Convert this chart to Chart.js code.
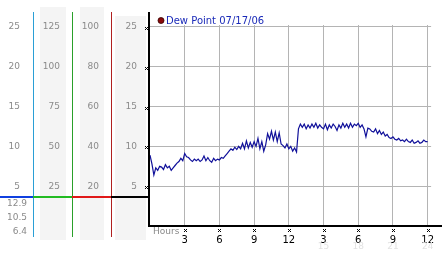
<!DOCTYPE html>
<html>
<head>
<meta charset="utf-8">
<script src="https://cdn.jsdelivr.net/npm/chart.js@4.4.1/dist/chart.umd.min.js"></script>
<style>
  html, body { margin: 0; padding: 0; background: #fff; }
  #wrap { width: 442px; height: 253px; }
</style>
</head>
<body>
<div id="wrap"><canvas id="dewChart" width="442" height="253"></canvas></div>
<script>
// --- data ---
const seriesLabel = 'Dew Point 07/17/06';
const stepHours = 1 / 6; // one reading every 10 minutes

// dew point readings, 6 per hour, hour 0 to 24
const dewPoint = [
  8.9, 7.8, 6.4, 7.3, 7.0, 7.5,
  7.4, 7.1, 7.7, 7.3, 7.5, 7.0,
  7.3, 7.6, 7.9, 8.1, 8.5, 8.2,
  9.1, 8.7, 8.6, 8.3, 8.1, 8.4,
  8.2, 8.4, 8.1, 8.3, 8.8, 8.2,
  8.6, 8.2, 8.0, 8.5, 8.2, 8.4,
  8.3, 8.6, 8.5, 8.8, 9.1, 9.4,
  9.7, 9.5, 9.9, 9.6, 10.0, 9.7,
  10.4, 9.7, 10.7, 9.8, 10.5, 9.9,
  10.6, 10.0, 11.0, 9.7, 10.6, 9.4,
  10.2, 11.6, 10.9, 11.9, 10.8, 11.8,
  10.6, 11.7, 10.3, 10.1, 9.8, 10.3,
  9.7, 10.0, 9.4, 9.8, 9.3, 12.2,
  12.8, 12.4, 12.8, 12.2, 12.7, 12.3,
  12.8, 12.4, 12.9, 12.3, 12.7, 12.4,
  12.2, 12.8, 12.1, 12.7, 12.3, 12.8,
  12.5, 12.0, 12.7, 12.3, 12.9, 12.4,
  12.8, 12.3, 12.9, 12.4, 12.8, 12.6,
  12.9, 12.4, 12.7, 12.2, 11.2, 12.3,
  12.2, 11.9, 11.8, 12.2, 11.6, 12.0,
  11.5, 11.8, 11.3, 11.5, 11.1, 11.0,
  11.2, 10.9, 10.8, 11.0, 10.7, 10.8,
  10.6, 10.9, 10.6, 10.5, 10.8, 10.4,
  10.5, 10.7, 10.4, 10.5, 10.8, 10.6,
  10.6
];

// left panel columns
const col1Ticks = [5, 10, 15, 20, 25];
const col2Ticks = [25, 50, 75, 100, 125];
const col3Ticks = [20, 40, 60, 80, 100];
const dewTicks = [5, 10, 15, 20, 25];

// hours axis
const hourTicks = [3, 6, 9, 12, 15, 18, 21, 24];
const hourLabels = ['3', '6', '9', '12', '3', '6', '9', '12'];
const faintHours = [15, 18, 21, 24];
const faintLabels = ['15', '18', '21', '24'];

// stats shown under the panel (max, avg, min)
const statValues = ['12.9', '10.5', '6.4'];

// --- helpers ---
const FONT = 'DejaVu Sans';
const GRID = '#b4b4b4';
const LABEL = '#8a8a8a';

function fixTicks(list) {
  return scale => { scale.ticks = list.map(v => ({ value: v })); };
}
function fixWidth(w) {
  return scale => { scale.width = w; };
}
function sideAxis(max, ticks, width, weight, pad) {
  return {
    type: 'linear', position: 'left', min: 0, max: max, weight: weight,
    afterBuildTicks: fixTicks(ticks),
    afterFit: fixWidth(width),
    grid: { display: false, drawTicks: false },
    border: { display: false },
    ticks: { color: LABEL, padding: pad, font: { family: FONT, size: 9 } }
  };
}

function dot(ctx, x, y) {
  // tiny checker mark used by the original at every tick
  ctx.fillStyle = '#000';
  ctx.fillRect(x - 1, y - 1, 1, 1);
  ctx.fillRect(x + 1, y - 1, 1, 1);
  ctx.fillRect(x, y, 1, 1);
  ctx.fillRect(x - 1, y + 1, 1, 1);
  ctx.fillRect(x + 1, y + 1, 1, 1);
}

const panelPlugin = {
  id: 'panel',
  beforeDraw(chart) {
    const ctx = chart.ctx;
    const s = chart.scales;
    ctx.save();
    ctx.fillStyle = '#f4f4f4';
    ctx.fillRect(s.y2.left + 7, 7, s.y2.width - 13, 233);
    ctx.fillRect(s.y3.left + 8, 7, s.y3.width - 15, 233);
    ctx.fillRect(s.y.left + 4, 16, s.y.width - 8, 224);
    ctx.restore();
  },
  afterDraw(chart) {
    const ctx = chart.ctx;
    const s = chart.scales;
    const area = chart.chartArea;
    ctx.save();

    // coloured column dividers
    const dividers = [[s.y1, '#2a9fd6', '#1040e0'], [s.y2, '#2aa02a', '#22bb22'], [s.y3, '#b02020', '#e01818']];
    dividers.forEach(([sc, vcol, hcol]) => {
      ctx.fillStyle = vcol;
      ctx.fillRect(Math.round(sc.right), 12, 1, 225);
      ctx.fillStyle = hcol;
      ctx.fillRect(Math.round(sc.left), 196, Math.round(sc.width) + 1, 2);
    });
    ctx.fillStyle = '#000';
    ctx.fillRect(Math.round(s.y.left), 196, Math.round(s.y.width), 2);

    // plot frame: left and bottom axis lines
    ctx.fillRect(Math.round(area.left) - 2, 12, 2, Math.round(area.bottom) - 12 + 1);
    ctx.fillRect(Math.round(area.left) - 2, Math.round(area.bottom) - 1, chart.width, 2);

    // tick marks
    dewTicks.forEach(v => dot(ctx, Math.round(area.left) - 4, Math.round(s.y.getPixelForValue(v)) + 1));
    hourTicks.forEach(v => dot(ctx, Math.round(s.x.getPixelForValue(v)), 230));

    // axis title
    ctx.font = '9px ' + FONT;
    ctx.fillStyle = LABEL;
    ctx.textBaseline = 'middle';
    ctx.textAlign = 'left';
    ctx.fillText('Hours', area.left + 3, 232);

    // faint 24h labels
    ctx.fillStyle = '#e2e2e2';
    ctx.textAlign = 'center';
    faintHours.forEach((h, i) => ctx.fillText(faintLabels[i], s.x.getPixelForValue(h), 247));

    // stats below the panel
    ctx.fillStyle = LABEL;
    ctx.textAlign = 'right';
    statValues.forEach((t, i) => ctx.fillText(t, 27, 204 + i * 14));

    // legend
    ctx.beginPath();
    ctx.arc(161, 20.5, 3, 0, Math.PI * 2);
    ctx.fillStyle = '#8b0a0a';
    ctx.fill();
    ctx.strokeStyle = '#300';
    ctx.lineWidth = 0.8;
    ctx.stroke();
    ctx.font = '10px ' + FONT;
    ctx.fillStyle = '#1a2ab8';
    ctx.textAlign = 'left';
    ctx.fillText(chart.data.datasets[0].label, 166, 21);

    ctx.restore();
  }
};

const points = dewPoint.map((v, i) => ({ x: i * stepHours, y: v }));

new Chart(document.getElementById('dewChart'), {
  type: 'line',
  data: {
    datasets: [{
      label: seriesLabel,
      data: points,
      yAxisID: 'y',
      borderColor: '#10109a',
      borderWidth: 1.2,
      pointRadius: 0,
      tension: 0,
      fill: false
    }]
  },
  options: {
    responsive: false,
    devicePixelRatio: 1,
    animation: false,
    layout: { padding: { top: 25, left: 0, right: 0, bottom: 0 } },
    plugins: { legend: { display: false }, tooltip: { enabled: false } },
    scales: {
      x: {
        type: 'linear', min: 0, max: 24.3,
        afterBuildTicks: fixTicks(hourTicks),
        afterFit: scale => { scale.height = 27; },
        grid: { color: GRID, drawTicks: false },
        border: { display: false },
        ticks: {
          color: '#000', padding: 8, maxRotation: 0,
          font: { family: FONT, size: 10 },
          callback: (v, i) => hourLabels[i]
        }
      },
      y1: sideAxis(25.25, col1Ticks, 33, 4, 13),
      y2: sideAxis(126.25, col2Ticks, 39, 3, 12),
      y3: sideAxis(101, col3Ticks, 39, 2, 12),
      y: {
        type: 'linear', position: 'left', min: 0, max: 25.25, weight: 1,
        afterBuildTicks: fixTicks(dewTicks),
        afterFit: fixWidth(39),
        grid: { color: GRID, drawTicks: false },
        border: { display: false },
        ticks: { color: LABEL, padding: 13, font: { family: FONT, size: 9 } }
      }
    }
  },
  plugins: [panelPlugin]
});
</script>
</body>
</html>
